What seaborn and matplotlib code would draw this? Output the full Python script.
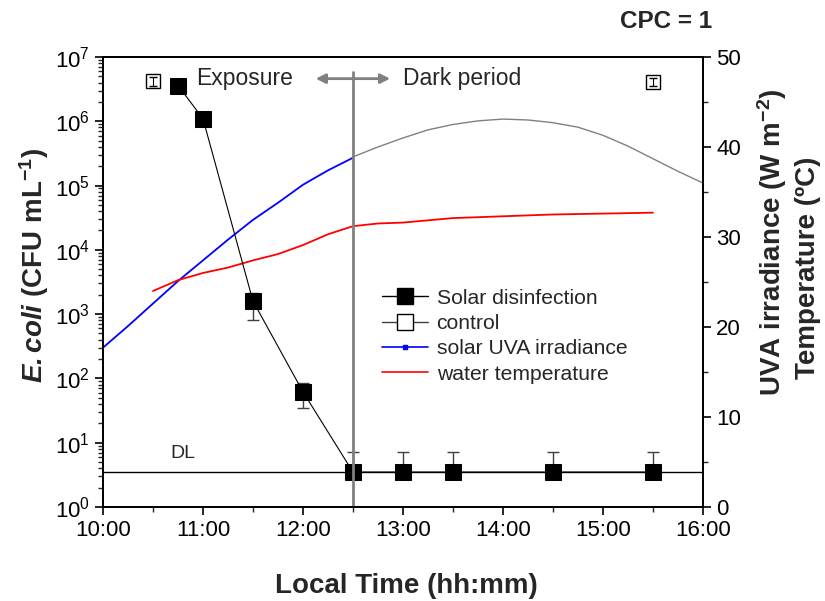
import numpy as np
import matplotlib
matplotlib.use("Agg")
import matplotlib.pyplot as plt
import matplotlib.ticker as mticker
from matplotlib.lines import Line2D
import seaborn as sns

sns.set_style("ticks")
plt.rcParams['font.family'] = ['Liberation Sans', 'DejaVu Sans']
plt.rcParams['mathtext.fontset'] = 'custom'
plt.rcParams['mathtext.rm'] = 'Liberation Sans:bold'
plt.rcParams['mathtext.it'] = 'Liberation Sans:italic'
plt.rcParams['mathtext.bf'] = 'Liberation Sans:bold'
plt.rcParams['mathtext.bfit'] = 'Liberation Sans:bold:italic'

# hours of the day (decimal)
sodis_t = [10.75, 11.0, 11.5, 12.0, 12.5, 13.0, 13.5, 14.5, 15.5]
sodis_cfu = [3.6e6, 1.1e6, 1.6e3, 62, 3.5, 3.5, 3.5, 3.5, 3.5]
sodis_err_lo = [0, 0, 800, 27, 0, 0, 0, 0, 0]
sodis_err_hi = [0, 0, 500, 23, 3.6, 3.6, 3.6, 3.6, 3.6]

ctrl_t = [10.5, 15.5]
ctrl_cfu = [4.2e6, 4.1e6]
ctrl_err = [0.6e6, 0.6e6]

dl_value = 3.5

uva_t = [10.0, 10.25, 10.5, 10.75, 11.0, 11.25, 11.5, 11.75, 12.0, 12.25, 12.5]
uva_val = [17.7, 20.1, 22.6, 25.1, 27.4, 29.7, 31.9, 33.8, 35.8, 37.4, 38.8]

uva_dark_t = [12.5, 12.75, 13.0, 13.25, 13.5, 13.75, 14.0, 14.25, 14.5, 14.75,
              15.0, 15.25, 15.5, 15.75, 16.0]
uva_dark_val = [38.9, 40.0, 41.0, 41.9, 42.5, 42.9, 43.1, 43.0, 42.7, 42.2,
                41.3, 40.1, 38.7, 37.3, 36.0]

temp_t = [10.5, 10.75, 11.0, 11.25, 11.5, 11.75, 12.0, 12.25, 12.5, 12.75,
          13.0, 13.5, 14.0, 14.5, 15.0, 15.5]
temp_val = [24.0, 25.2, 26.0, 26.6, 27.4, 28.1, 29.1, 30.3, 31.2, 31.5,
            31.6, 32.1, 32.3, 32.5, 32.6, 32.7]

fig = plt.figure(figsize=(8.25, 6.01), dpi=100)
ax = fig.add_axes([0.1248, 0.1564, 0.7272, 0.7488])
ax2 = ax.twinx()

# right axis: irradiance / temperature
sns.lineplot(x=uva_t, y=uva_val, ax=ax2, color='blue', lw=1.3)
sns.lineplot(x=uva_dark_t, y=uva_dark_val, ax=ax2, color='#808080', lw=1.0)
sns.lineplot(x=temp_t, y=temp_val, ax=ax2, color='red', lw=1.3)
ax2.set_ylim(0, 50)
ax2.yaxis.set_major_locator(mticker.MultipleLocator(10))
ax2.yaxis.set_minor_locator(mticker.MultipleLocator(5))

# left axis: E. coli
ax.set_zorder(ax2.get_zorder() + 1)
ax.patch.set_visible(False)
ax.set_yscale('log')
ax.axhline(dl_value, color='black', lw=1.0)
ax.text(10.8, 5.0, 'DL', fontsize=14, ha='center', va='bottom')
ax.errorbar(sodis_t, sodis_cfu, yerr=[sodis_err_lo, sodis_err_hi], fmt='none',
            ecolor='#404040', elinewidth=1.0, capsize=4)
sns.lineplot(x=sodis_t, y=sodis_cfu, ax=ax, color='black', lw=0.8, marker='s',
             markersize=12, markerfacecolor='black', markeredgecolor='black')
ax.plot(ctrl_t, ctrl_cfu, 's', mfc='white', mec='black', ms=10, mew=1.0, zorder=3)
ax.errorbar(ctrl_t, ctrl_cfu, yerr=ctrl_err, fmt='none', ecolor='black',
            capsize=3, elinewidth=0.8, zorder=4)

ax.axvline(12.5, ymin=0, ymax=0.966, color='#808080', lw=2)
ax.annotate('', xy=(12.1, 4.6e6), xytext=(12.52, 4.6e6),
            arrowprops=dict(arrowstyle='-|>', color='#808080', lw=2, mutation_scale=14))
ax.annotate('', xy=(12.9, 4.6e6), xytext=(12.48, 4.6e6),
            arrowprops=dict(arrowstyle='-|>', color='#808080', lw=2, mutation_scale=14))
ax.text(11.42, 4.6e6, 'Exposure', fontsize=16.5, ha='center', va='center')
ax.text(13.59, 4.6e6, 'Dark period', fontsize=16.5, ha='center', va='center')

ax.set_xlim(10, 16)
ax.set_ylim(1, 1e7)
ax.xaxis.set_major_locator(mticker.MultipleLocator(1))
ax.xaxis.set_minor_locator(mticker.MultipleLocator(0.5))
ax.xaxis.set_major_formatter(mticker.FuncFormatter(lambda v, p: f"{int(v)}:00"))
ax.yaxis.set_major_locator(mticker.LogLocator(base=10, numticks=10))
ax.yaxis.set_minor_locator(mticker.LogLocator(base=10, subs=np.arange(2, 10), numticks=20))
ax.yaxis.set_minor_formatter(mticker.NullFormatter())
ax.yaxis.set_major_formatter(mticker.FuncFormatter(lambda v, p: r'$\mathregular{10^{%d}}$' % round(np.log10(v))))

for a in (ax, ax2):
    a.tick_params(which='major', direction='out', length=6, width=1.2, labelsize=16, colors='black')
    a.tick_params(which='minor', direction='out', length=3.5, width=1.0)
    for s in a.spines.values():
        s.set_linewidth(1.3)
        s.set_color('black')

# axis titles
fig.text(0.492, 0.0133, 'Local Time (hh:mm)', fontsize=20, fontweight='bold',
         ha='center', va='baseline')
fig.text(0.041, 0.559, r'$\mathbfit{E. coli}$ (CFU mL$^{-1}$)', fontsize=20, fontweight='bold',
         rotation=90, ha='center', va='center')
fig.text(0.936, 0.597, 'UVA irradiance (W m$^{-2}$)', fontsize=20, fontweight='bold',
         rotation=90, ha='center', va='center')
fig.text(0.979, 0.554, 'Temperature (ºC)', fontsize=20, fontweight='bold',
         rotation=90, ha='center', va='center')
fig.text(0.863, 0.964, 'CPC = 1', fontsize=17.5, fontweight='bold', ha='right', va='center')

# legend
handles = [
    Line2D([], [], color='black', lw=1, marker='s', ms=12, mfc='black'),
    Line2D([], [], color='#404040', lw=1, marker='s', ms=12, mfc='white', mec='black'),
    Line2D([], [], color='blue', lw=1.2, marker='s', ms=3),
    Line2D([], [], color='red', lw=1.2),
]
labels = ['Solar disinfection', 'control', 'solar UVA irradiance', 'water temperature']
ax.legend(handles, labels, loc='upper left', bbox_to_anchor=(0.44, 0.518), frameon=False,
          fontsize=15.2, handlelength=2.2, handletextpad=0.4, labelspacing=0.3, borderpad=0.2)

fig.savefig('out.png', dpi=100)
